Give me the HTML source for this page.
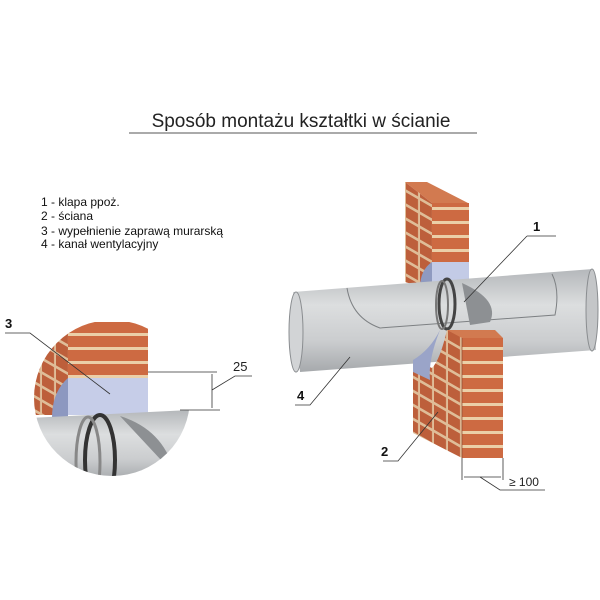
<!DOCTYPE html>
<html><head><meta charset="utf-8"><style>
html,body{margin:0;padding:0;background:#fff;}
svg{display:block;font-family:"Liberation Sans",sans-serif;}
</style></head><body>
<svg width="600" height="600" viewBox="0 0 600 600" xmlns="http://www.w3.org/2000/svg">
<defs>
<linearGradient id="pipe" x1="0" y1="0" x2="0" y2="1">
<stop offset="0" stop-color="#b4b7ba"/><stop offset="0.35" stop-color="#dcdedf"/><stop offset="0.7" stop-color="#cbcdcf"/><stop offset="1" stop-color="#a6a9ac"/>
</linearGradient>
<pattern id="brickF" width="40" height="14" patternUnits="userSpaceOnUse">
<rect width="40" height="14" fill="#cd6a42"/><rect y="11" width="40" height="3" fill="#ebcfa8"/>
</pattern>
<pattern id="brickS" width="14" height="14" patternUnits="userSpaceOnUse" patternTransform="skewY(30)">
<rect width="14" height="14" fill="#bd5f3b"/><rect y="11" width="14" height="3" fill="#dfbd98"/><rect x="12" width="2" height="14" fill="#dfbd98"/>
</pattern>
<clipPath id="circ"><circle cx="112" cy="398" r="78"/></clipPath>
</defs>

<text x="301" y="127" font-size="19" text-anchor="middle" fill="#222">Sposób montażu kształtki w ścianie</text>
<line x1="129" y1="133" x2="477" y2="133" stroke="#555" stroke-width="1"/>

<g font-size="12" fill="#111">
<text x="41" y="206">1 - klapa ppoż.</text>
<text x="41" y="220">2 - ściana</text>
<text x="41" y="235">3 - wypełnienie zaprawą murarską</text>
<text x="41" y="248">4 - kanał wentylacyjny</text>
</g>

<!-- upper wall -->
<polygon points="405,182 427,182 468,203 432,203" fill="#d27a50"/>
<polygon points="405,182 432,203 432,290 405,282" fill="url(#brickS)"/>
<rect x="432" y="203" width="37" height="60" fill="url(#brickF)"/>
<rect x="432" y="262" width="37" height="22" fill="#c3cbe6"/>
<path d="M432,262 Q420,270 420,288 L432,288Z" fill="#8f9ac0"/>

<!-- pipe -->
<polygon points="293,292 593,269 596,350 300,372" fill="url(#pipe)"/>
<ellipse cx="296" cy="332" rx="7" ry="40" fill="#d2d4d6" stroke="#8a8d90"/>
<ellipse cx="592" cy="310" rx="6" ry="41" fill="#c4c6c8" stroke="#8a8d90"/>
<path d="M347,288 Q352,318 380,328 L555,315 Q560,290 552,274" fill="none" stroke="#7d8083" stroke-width="1"/>
<path d="M462,283 Q500,300 490,322 L470,325Z" fill="#8d9093"/>
<ellipse cx="447" cy="304" rx="8" ry="25" fill="none" stroke="#444" stroke-width="3"/>
<ellipse cx="442" cy="305" rx="6" ry="24" fill="none" stroke="#777" stroke-width="2"/>

<!-- lower wall -->
<path d="M447,330 Q440,360 432,368 L413,360 L413,433 L462,458 L462,335Z" fill="url(#brickS)"/>
<path d="M440,330 Q428,360 430,380 L413,372 L413,360 Q430,350 440,330Z" fill="#9aa4c8"/>
<polygon points="447,330 495,330 503,338 462,338" fill="#d27a50"/>
<rect x="462" y="338" width="41" height="120" fill="url(#brickF)"/>
<line x1="462" y1="338" x2="462" y2="458" stroke="#8a4a30" stroke-width="0.7"/>

<!-- dimension >=100 -->
<g stroke="#333" stroke-width="0.8" fill="none">
<line x1="462" y1="458" x2="462" y2="480"/><line x1="503" y1="458" x2="503" y2="480"/>
<line x1="464" y1="477" x2="501" y2="477"/>
<path d="M480,477 L500,490 L545,490"/>
</g>
<text x="509" y="486" font-size="12" fill="#222">≥ 100</text>

<!-- labels main -->
<g stroke="#333" stroke-width="0.8" fill="none">
<path d="M527,236 L556,236"/><path d="M527,236 L464,302"/>
<path d="M295,405 L310,405 L350,357"/>
<path d="M383,461 L398,461 L438,412"/>
</g>
<g font-size="13" font-weight="bold" fill="#111">
<text x="533" y="231">1</text><text x="297" y="400">4</text><text x="381" y="456">2</text>
</g>

<!-- inset -->
<g clip-path="url(#circ)">
<rect x="30" y="310" width="170" height="170" fill="#fff"/>
<path d="M68,322 L68,380 Q55,392 55,415 L30,415 L30,322Z" fill="url(#brickS)"/>
<rect x="68" y="322" width="80" height="57" fill="url(#brickF)"/>
<rect x="68" y="378" width="80" height="37" fill="#c6cde8"/>
<path d="M68,378 Q52,392 52,418 L68,418Z" fill="#8d98c0"/>
<polygon points="30,418 190,410 190,480 30,480" fill="url(#pipe)"/>
<path d="M120,416 Q165,430 175,475" fill="#8d9093"/>
<ellipse cx="100" cy="460" rx="15" ry="45" fill="none" stroke="#333" stroke-width="4"/>
<ellipse cx="88" cy="462" rx="12" ry="45" fill="none" stroke="#888" stroke-width="3"/>
</g>
<g stroke="#333" stroke-width="0.8" fill="none">
<line x1="148" y1="372" x2="217" y2="372"/><line x1="180" y1="410" x2="220" y2="410"/>
<line x1="212" y1="374" x2="212" y2="408"/>
<path d="M212,390 L235,376 L252,376"/>
<path d="M5,333 L30,333 L110,394"/>
</g>
<text x="233" y="371" font-size="13" fill="#222">25</text>
<text x="5" y="328" font-size="13" font-weight="bold" fill="#111">3</text>
</svg>
</body></html>
